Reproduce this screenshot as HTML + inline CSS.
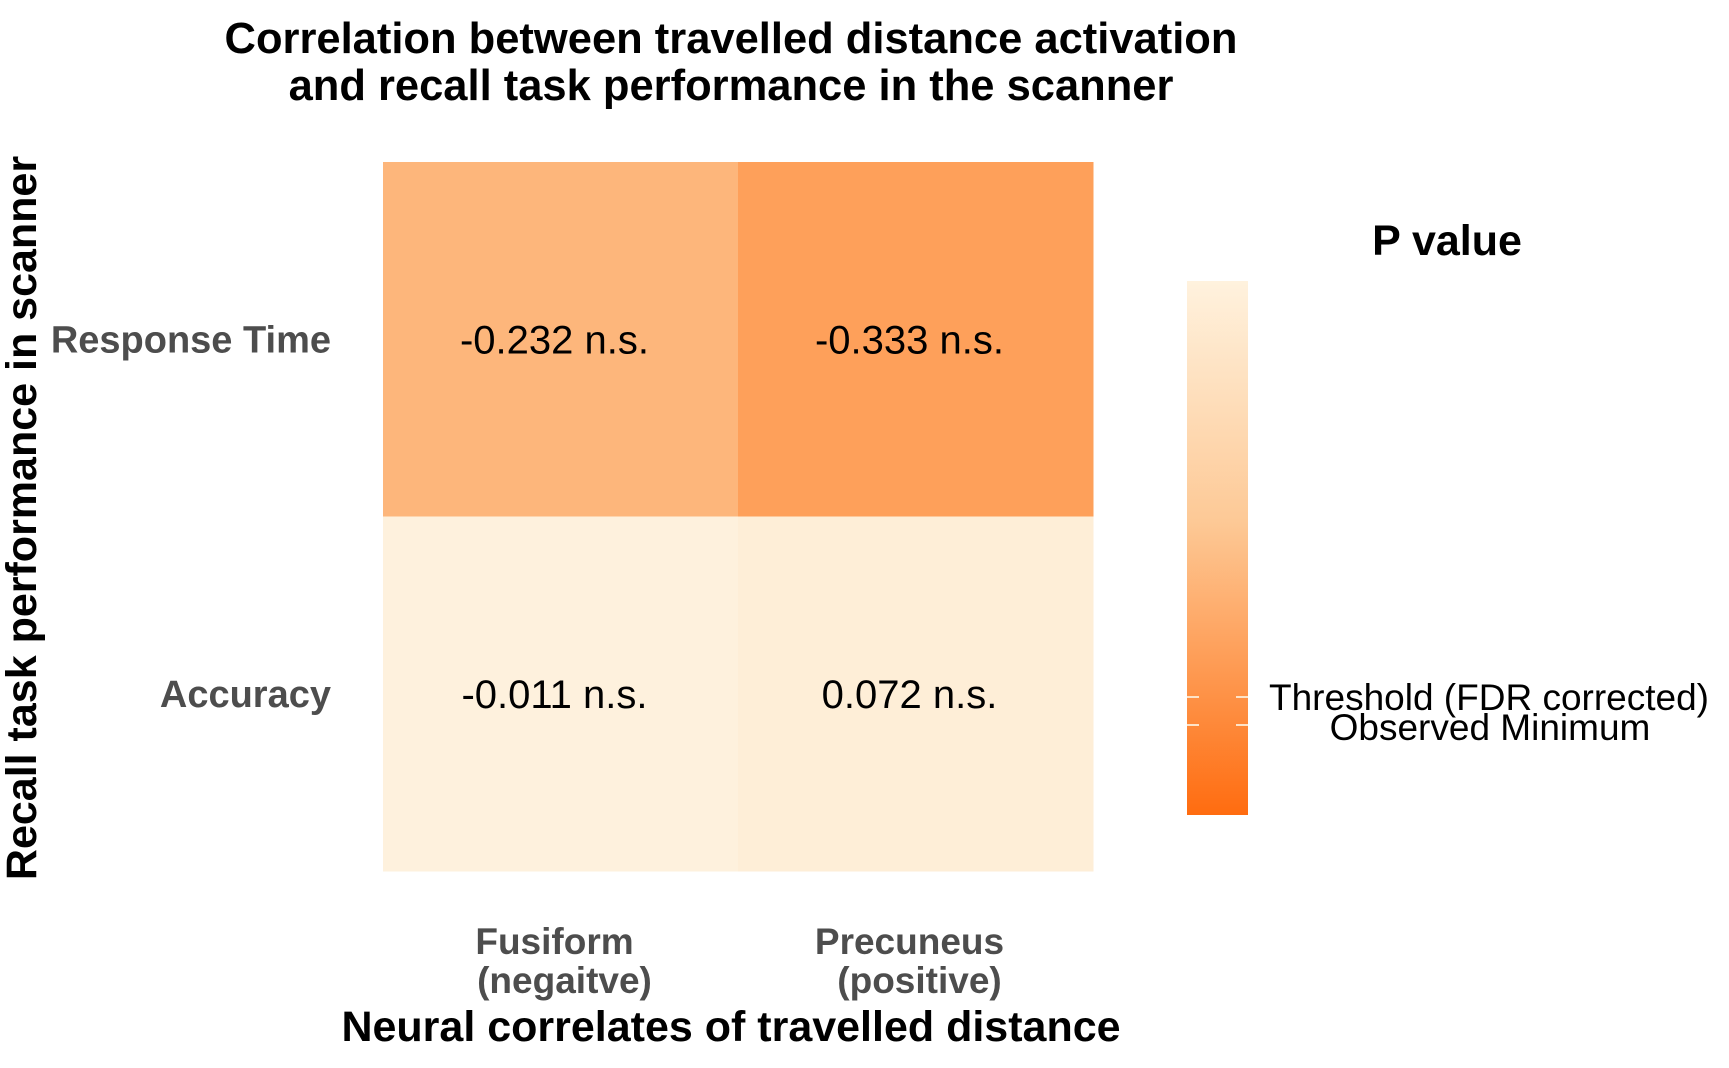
<!DOCTYPE html>
<html><head><meta charset="utf-8"><style>
html,body{margin:0;padding:0;background:#fff}
svg{display:block;font-family:"Liberation Sans",Arial,sans-serif}
</style></head><body>
<svg id="chart" width="1729" height="1068" viewBox="0 0 1729 1068">
<defs><linearGradient id="cb" x1="0" y1="0" x2="0" y2="1"><stop offset="0" stop-color="#fff2de"/><stop offset="0.45" stop-color="#fdc996"/><stop offset="1" stop-color="#ff6c10"/></linearGradient></defs>
<text x="731" y="53" text-anchor="middle" font-size="43.5" font-weight="bold">Correlation between travelled distance activation</text>
<text x="731" y="100" text-anchor="middle" font-size="43.5" font-weight="bold">and recall task performance in the scanner</text>
<g id="cells"></g>
<text transform="translate(36,518) rotate(-90)" text-anchor="middle" font-size="43" font-weight="bold">Recall task performance in scanner</text>
<text x="731" y="1041" text-anchor="middle" font-size="43" font-weight="bold">Neural correlates of travelled distance</text>
<text x="1447" y="255" text-anchor="middle" font-size="43" font-weight="bold">P value</text>
<rect x="1187" y="281" width="61" height="534" fill="url(#cb)"/>
<g stroke="#fde3c8" stroke-width="2">
<line x1="1187" y1="697" x2="1199" y2="697"/><line x1="1236" y1="697" x2="1248" y2="697"/>
<line x1="1187" y1="725" x2="1199" y2="725"/><line x1="1236" y1="725" x2="1248" y2="725"/>
</g>
<text x="1269" y="710" font-size="37">Threshold (FDR corrected)</text>
<text x="1490" y="740" text-anchor="middle" font-size="37">Observed Minimum</text>
</svg>
<script>
const cols = ["Fusiform|(negaitve)", "Precuneus|(positive)"];
const rows = ["Response Time", "Accuracy"];
const pvals = [[0.36, 0.25], [0.99, 0.95]];
const labels = [["-0.232 n.s.", "-0.333 n.s."], ["-0.011 n.s.", "0.072 n.s."]];
const ns = "http://www.w3.org/2000/svg";
const X0 = 383, X1 = 1093, Y0 = 162, Y1 = 871;
const cw = (X1 - X0) / cols.length, rh = (Y1 - Y0) / rows.length;
function xPos(i){return X0 + i * cw;}
function yPos(j){return Y0 + j * rh;}
function color(p){
  const a=[255,108,16], b=[253,201,150], c=[254,242,222];
  let r;
  if(p<0.45){const t=p/0.45; r=a.map((v,k)=>v+(b[k]-v)*t);} else {const t=Math.min(1,(p-0.45)/0.55); r=b.map((v,k)=>v+(c[k]-v)*t);}
  return "rgb("+r.map(Math.round).join(",")+")";
}
const g = document.getElementById("cells");
const svg = document.getElementById("chart");
rows.forEach((rn, j) => {
  cols.forEach((cn, i) => {
    const r = document.createElementNS(ns, "rect");
    r.setAttribute("x", xPos(i)); r.setAttribute("y", yPos(j));
    r.setAttribute("width", cw + 0.5); r.setAttribute("height", rh + 0.5);
    r.setAttribute("fill", color(pvals[j][i]));
    
    
    g.appendChild(r);
    const t = document.createElementNS(ns, "text");
    t.setAttribute("x", xPos(i) + cw / 2 - 6); t.setAttribute("y", yPos(j) + rh / 2 + 14);
    t.setAttribute("text-anchor", "middle"); t.setAttribute("font-size", "40");
    t.textContent = labels[j][i];
    
    
    g.appendChild(t);
  });
  const yl = document.createElementNS(ns, "text");
  yl.setAttribute("x", 331); yl.setAttribute("y", yPos(j) + rh / 2 + 13);
  yl.setAttribute("text-anchor", "end"); yl.setAttribute("font-size", "38");
  yl.setAttribute("font-weight", "bold"); yl.setAttribute("fill", "#4d4d4d");
  yl.textContent = rn;
  
  
  svg.appendChild(yl);
});
cols.forEach((cn, i) => {
  const parts = cn.split("|");
  parts.forEach((p, k) => {
    const t = document.createElementNS(ns, "text");
    t.setAttribute("x", xPos(i) + cw / 2 - 6 + (k ? 10 : 0)); t.setAttribute("y", 954 + k * 39);
    t.setAttribute("text-anchor", "middle"); t.setAttribute("font-size", "37");
    t.setAttribute("font-weight", "bold"); t.setAttribute("fill", "#4d4d4d");
    t.textContent = p;
    
    
    svg.appendChild(t);
  });
});
</script>
</body></html>
